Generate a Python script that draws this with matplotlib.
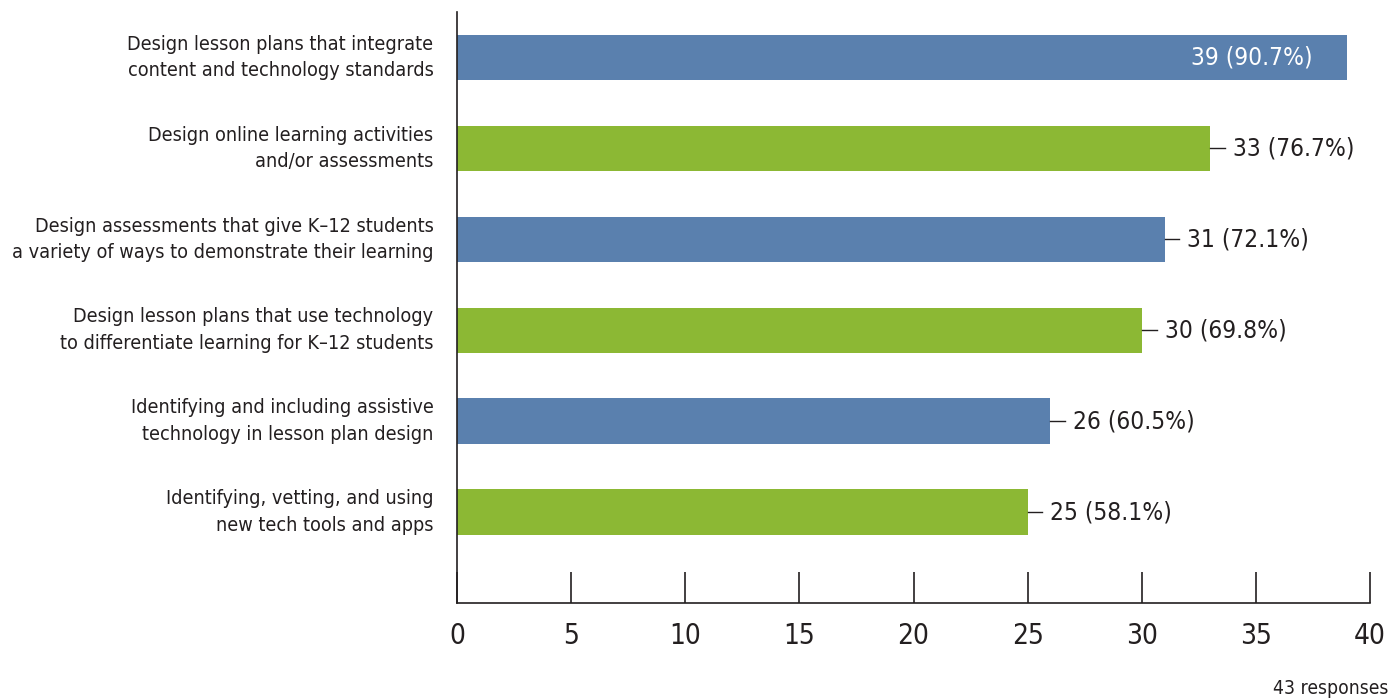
import matplotlib
matplotlib.use("Agg")
import matplotlib.pyplot as plt
from matplotlib import font_manager

categories = [
    "Design lesson plans that integrate\ncontent and technology standards",
    "Design online learning activities\nand/or assessments",
    "Design assessments that give K\u201312 students\na variety of ways to demonstrate their learning",
    "Design lesson plans that use technology\nto differentiate learning for K\u201312 students",
    "Identifying and including assistive\ntechnology in lesson plan design",
    "Identifying, vetting, and using\nnew tech tools and apps",
]
counts = [39, 33, 31, 30, 26, 25]
percents = [90.7, 76.7, 72.1, 69.8, 60.5, 58.1]
xticks = [0, 5, 10, 15, 20, 25, 30, 35, 40]
note = "43 responses"

# pick a condensed face if one is installed
fp_cond = None
for f in font_manager.fontManager.ttflist:
    n = f.name.lower()
    if ("condensed" in n or "narrow" in n or str(f.stretch).lower() in ("condensed", "semi-condensed")) and f.weight in (400, "normal", "regular") and f.style == "normal":
        fp_cond = font_manager.FontProperties(fname=f.fname)
        break
names = {f.name for f in font_manager.fontManager.ttflist}
base = "Roboto" if "Roboto" in names else "DejaVu Sans"
if fp_cond is None:
    fp_cond = font_manager.FontProperties(family=base)
plt.rcParams['font.family'] = [base, 'DejaVu Sans']

txt = "#231f20"
blue = "#5a80ae"
green = "#8cb834"
colors = [blue if i % 2 == 0 else green for i in range(len(counts))]

fig = plt.figure(figsize=(13.95, 6.98), dpi=100)
ax = fig.add_axes([457/1395, 1 - 603/698, (1370-457)/1395, (603-12)/698])
renderer = fig.canvas.get_renderer()

def fit_size(s, target_px, size0):
    fp = fp_cond.copy()
    fp.set_size(size0)
    t = fig.text(0, 0, s, fontproperties=fp)
    w = t.get_window_extent(renderer).width
    t.remove()
    return size0 * target_px / w

cat_size = min(17, fit_size("a variety of ways to demonstrate their learning", 423, 16))
val_size = min(20, fit_size("33 (76.7%)", 1355 - 1233, 19))
tick_size = min(22, fit_size("40", 1384 - 1352, 20))
note_size = min(16, fit_size(note, 1388 - 1272, 15))

def fp(size):
    p = fp_cond.copy()
    p.set_size(size)
    return p

ypos = list(range(len(counts)))
ax.barh(ypos, counts, height=0.5, color=colors)
ax.set_xlim(0, 40)
ax.set_ylim(6.0, -0.5)

for y, c, p in zip(ypos, counts, percents):
    label = f"{c} ({p}%)"
    if y == 0:
        ax.text(c - 1.5, y, label, ha="right", va="center", color="white", fontproperties=fp(val_size))
    else:
        ax.plot([c, c + 0.65], [y, y], color=txt, lw=1)
        ax.text(c + 1.0, y, label, ha="left", va="center", color=txt, fontproperties=fp(val_size))

ax.set_yticks(ypos)
ax.set_yticklabels(categories, color=txt, linespacing=1.5, ha="right", va="center",
                   fontproperties=fp(cat_size))
ax.tick_params(axis="y", length=0, pad=17)
ax.set_xticks(xticks)
ax.set_xticklabels([str(t) for t in xticks], color=txt, fontproperties=fp(tick_size))
ax.tick_params(axis="x", direction="in", length=22, width=1.2, color=txt, pad=14)

for s in ["top", "right"]:
    ax.spines[s].set_visible(False)
for s in ["left", "bottom"]:
    ax.spines[s].set_color(txt)
    ax.spines[s].set_linewidth(1.2)

fig.text(1388/1395, 1 - 688/698, note, ha="right", va="center", color=txt, fontproperties=fp(note_size))

fig.savefig("out.png", dpi=100)
